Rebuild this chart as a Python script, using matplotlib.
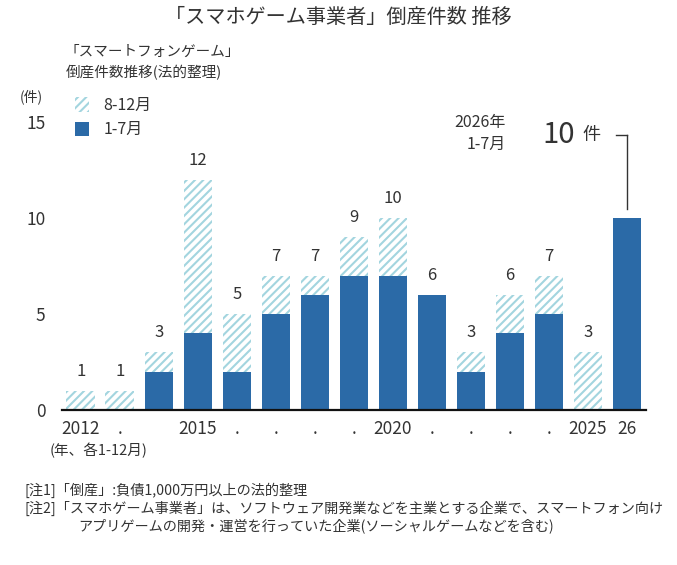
import matplotlib
matplotlib.use("Agg")
import matplotlib.pyplot as plt
from matplotlib.patches import Patch

plt.rcParams['font.family'] = ['Noto Sans CJK JP', 'DejaVu Sans']
plt.rcParams['hatch.linewidth'] = 1.5

years = ["2012", "2013", "2014", "2015", "2016", "2017", "2018", "2019",
         "2020", "2021", "2022", "2023", "2024", "2025", "2026"]
tick_labels = ["2012", ".", "", "2015", ".", ".", ".", ".", "2020",
               ".", ".", ".", ".", "2025", "26"]
jan_jul = [0, 0, 2, 4, 2, 5, 6, 7, 7, 6, 2, 4, 5, 0, 10]
aug_dec = [1, 1, 1, 8, 3, 2, 1, 2, 3, 0, 1, 2, 2, 3, 0]
totals = [a + b for a, b in zip(jan_jul, aug_dec)]

BLUE = '#2b6aa7'
HATCH = '#a3d5df'
TXT = '#333333'

W, H = 677, 565
fig = plt.figure(figsize=(W / 100, H / 100), dpi=100)
ax = fig.add_axes([62 / W, 1 - 410 / H, (646 - 62) / W, (410 - 122) / H])

x = list(range(len(years)))
ax.bar(x, jan_jul, width=0.73, color=BLUE, linewidth=0)
ax.bar(x, aug_dec, width=0.73, bottom=jan_jul, color='white',
       edgecolor=HATCH, hatch='////', linewidth=0)

ax.set_xlim(-0.48, 14.49)
ax.set_ylim(0, 15)
for s in ['top', 'right', 'left']:
    ax.spines[s].set_visible(False)
ax.spines['bottom'].set_linewidth(1.6)
ax.spines['bottom'].set_color('#111111')
ax.set_yticks([0, 5, 10, 15])
ax.tick_params(axis='y', length=0, pad=12, labelsize=12.5, labelcolor=TXT)
ax.set_xticks(x)
ax.set_xticklabels(tick_labels)
ax.tick_params(axis='x', length=0, pad=7, labelsize=12.5, labelcolor=TXT)

# total labels (except latest year, annotated separately)
for i, t in enumerate(totals[:-1]):
    ax.annotate(str(t), (i, t), xytext=(0, 14), textcoords='offset points',
                ha='center', va='center', fontsize=12, color=TXT)

# callout for 2026
li = len(years) - 1
lv = totals[-1]
ax.plot([li, li], [lv + 0.45, 14.3], color='#333333', lw=1.0, clip_on=False)
ax.plot([li - 0.27, li], [14.3, 14.3], color='#333333', lw=1.0, clip_on=False)
ax.text(12.67, 14.3, str(lv), ha='right', va='center', fontsize=21,
        color=TXT, clip_on=False)
ax.text(12.85, 14.3, "件", ha='left', va='center', fontsize=13,
        color=TXT, clip_on=False)
ax.text(10.9, 14.95, "2026年", ha='right', va='center', fontsize=11.5,
        color=TXT, clip_on=False)
ax.text(10.9, 13.85, "1-7月", ha='right', va='center', fontsize=11.5,
        color=TXT, clip_on=False)

# title and legend
fig.text(0.5, 1 - 17 / H, "「スマホゲーム事業者」倒産件数 推移", ha='center',
         va='center', fontsize=14.5, color=TXT)
fig.text(64 / W, 1 - 52 / H, "「スマートフォンゲーム」", ha='left', va='center',
         fontsize=10.5, color=TXT)
fig.text(66 / W, 1 - 73 / H, "倒産件数推移(法的整理)", ha='left', va='center',
         fontsize=10.5, color=TXT)
fig.text(20 / W, 1 - 97 / H, "(件)", ha='left', va='center',
         fontsize=10, color=TXT)
handles = [Patch(facecolor='white', edgecolor=HATCH, hatch='////', linewidth=0,
                 label='8-12月'),
           Patch(facecolor=BLUE, linewidth=0, label='1-7月')]
leg = fig.legend(handles=handles, loc='upper left',
                 bbox_to_anchor=(64 / W, 1 - 86 / H), frameon=False,
                 fontsize=11.5, handlelength=0.85, handleheight=1.05,
                 handletextpad=0.9, labelspacing=0.45, borderpad=0.2)
for t in leg.get_texts():
    t.set_color(TXT)

fig.text(50 / W, 1 - 450 / H, "(年、各1-12月)", ha='left', va='center',
         fontsize=10.5, color=TXT)

# notes
fig.text(25 / W, 1 - 490 / H, "[注1]「倒産」:負債1,000万円以上の法的整理",
         ha='left', va='center', fontsize=10.2, color=TXT)
fig.text(25 / W, 1 - 508 / H,
         "[注2]「スマホゲーム事業者」は、ソフトウェア開発業などを主業とする企業で、スマートフォン向け",
         ha='left', va='center', fontsize=10.2, color=TXT)
fig.text(78 / W, 1 - 526 / H,
         "アプリゲームの開発・運営を行っていた企業(ソーシャルゲームなどを含む)",
         ha='left', va='center', fontsize=10.2, color=TXT)

fig.savefig("out.png", dpi=100)
